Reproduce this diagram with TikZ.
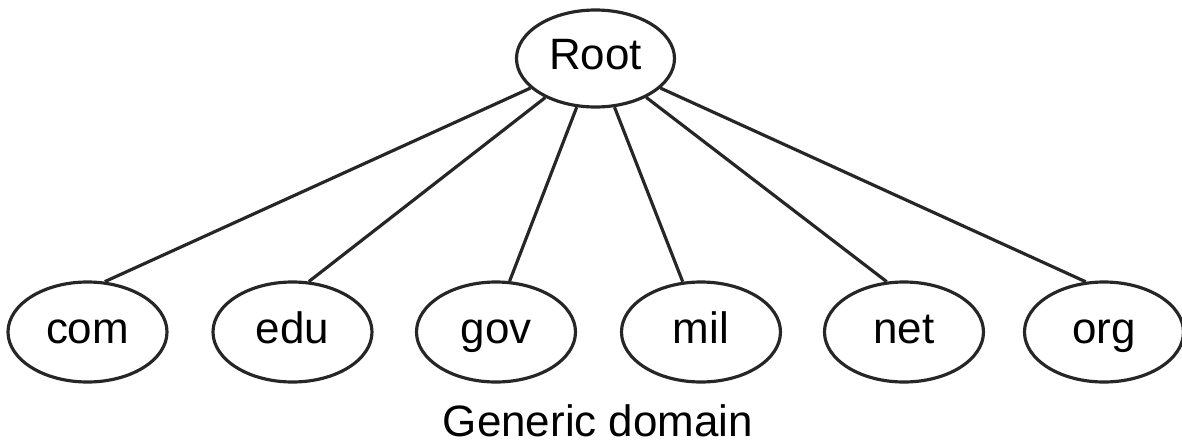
\documentclass[tikz,border=0pt]{standalone}
\usepackage{fontspec}
\setmainfont{Liberation Sans}
\usetikzlibrary{shapes.geometric}

\tikzset{
  zone/.style={draw=black!85, line width=0.9pt, ellipse, inner sep=0pt,
    minimum width=1.59cm, minimum height=1.0cm, font=\fontsize{12.5}{14}\selectfont,
    text height=1.6ex, text depth=0.4ex},
  branch/.style={draw=black!85, line width=0.9pt}
}

\begin{document}
\begin{tikzpicture}

\useasboundingbox (0,0) rectangle (11.82,-4.41);

% ---- root of the name space ----
\node[zone, minimum width=1.58cm, minimum height=0.97cm] (root) at (5.955,-0.585) {Root};

% ---- generic domains ----
\foreach \name/\x in {com/0.875, edu/2.925, gov/4.96, mil/7.01, net/9.04, org/11.04}
  \node[zone] (\name) at (\x,-3.32) {\name};

\foreach \name/\a in {com/71, edu/72, gov/75, mil/110, net/109, org/110}
  \draw[branch] (root) -- (\name.\a);

\node[font=\fontsize{12.5}{14}\selectfont] (caption) at (5.98,-4.21) {Generic domain};

\end{tikzpicture}
\end{document}
